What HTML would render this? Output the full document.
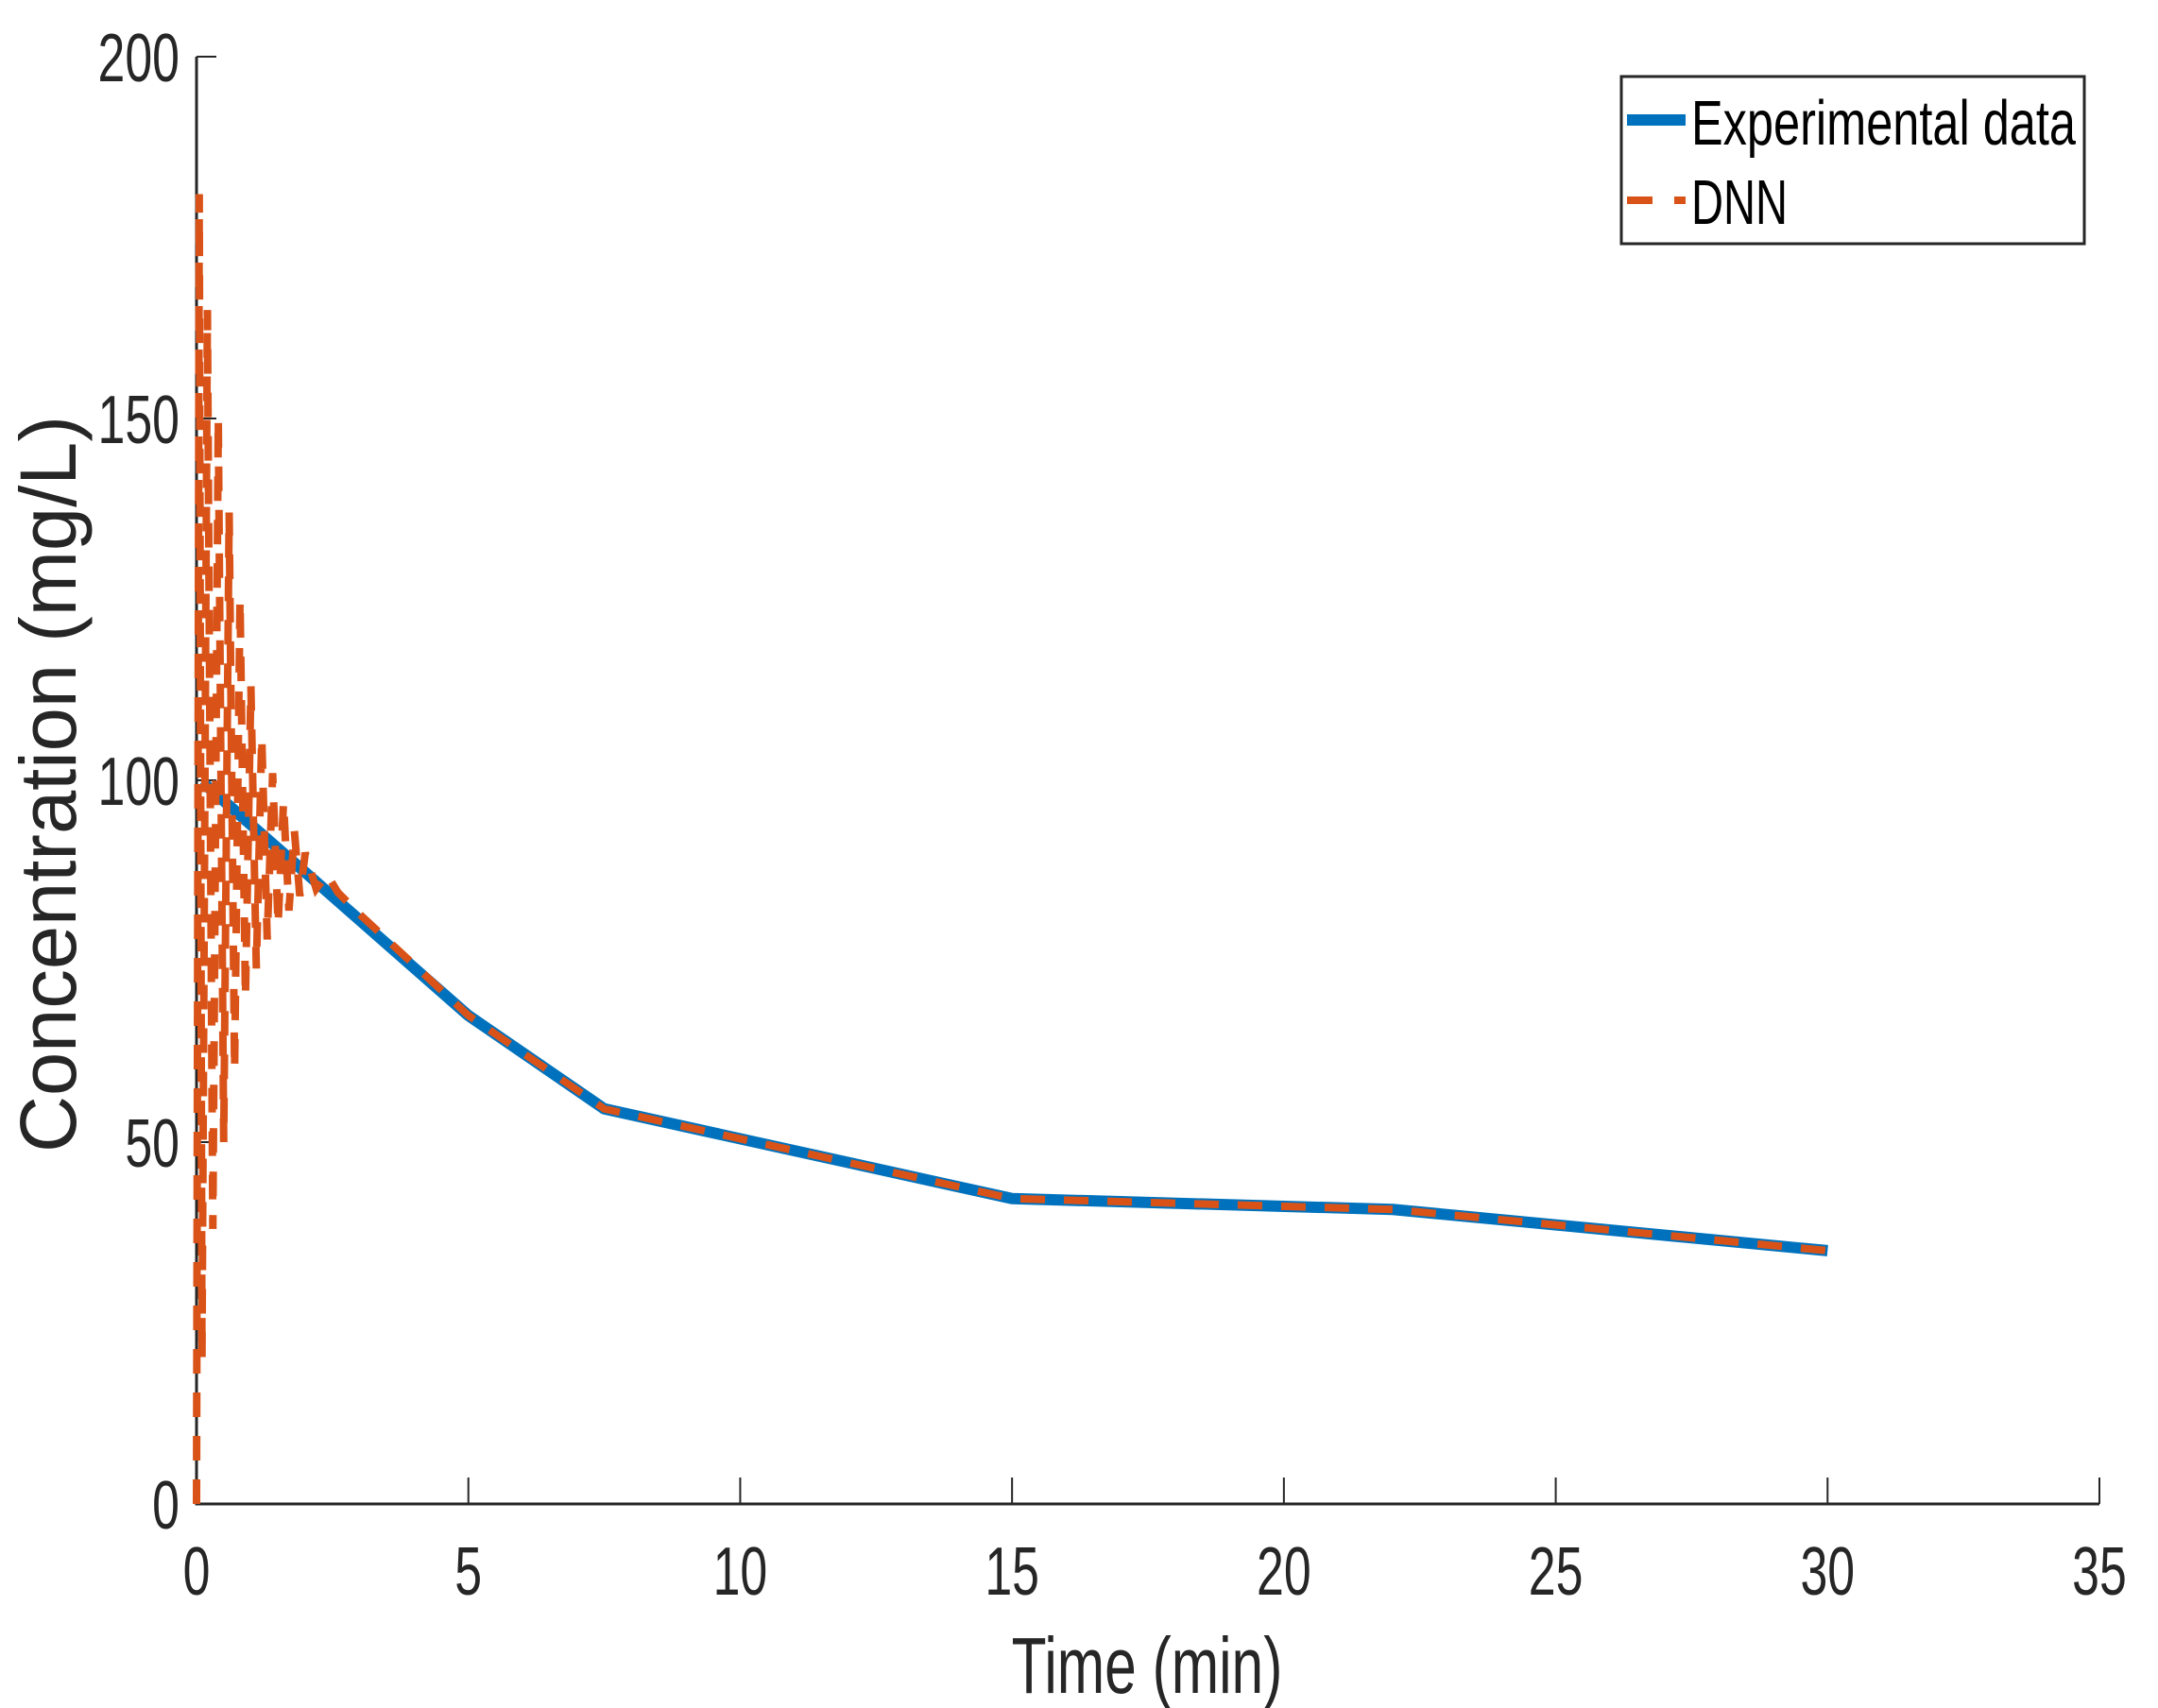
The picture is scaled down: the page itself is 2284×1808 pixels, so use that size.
<!DOCTYPE html>
<html><head><meta charset="utf-8"><style>
html,body{margin:0;padding:0;background:#fff;}
svg{display:block;font-family:"Liberation Sans",sans-serif;}
</style></head><body>
<svg id="chart" width="2284" height="1808" viewBox="0 0 2284 1808" xmlns="http://www.w3.org/2000/svg">
<rect width="2284" height="1808" fill="#fff"/>
<g id="axes"></g>
<g id="series"></g>
<g id="legend">
  <rect x="1716" y="81" width="490" height="177" fill="#fff" stroke="#262626" stroke-width="3"/>
  <line x1="1722" y1="127" x2="1784" y2="127" stroke="#0072BD" stroke-width="12"/>
  <text x="1790" y="153" font-size="67" fill="#000" textLength="407" lengthAdjust="spacingAndGlyphs">Experimental data</text>
  <line x1="1722" y1="212" x2="1784" y2="212" stroke="#D95319" stroke-width="8" stroke-dasharray="27 23"/>
  <text x="1790" y="237" font-size="67" fill="#000" textLength="102" lengthAdjust="spacingAndGlyphs">DNN</text>
</g>
</svg>
<script>
const xTicks = [0,5,10,15,20,25,30,35];
const yTicks = [0,50,100,150,200];
const expT = [0.1,5,7.5,15,22,30];
const expV = [99.8,67.5,54.6,42.2,40.7,35];
const dnnT = [0,0.05,0.1,0.2,0.3,0.4,0.5,0.6,0.7,0.8,0.9,1.0,1.1,1.2,1.3,1.4,1.5,1.6,1.7,1.8,1.9,2.0,2.2,2.4,2.6,2.8,3.0,5,7.5,15,22,30];
const dnnV = [0,181,20,165,38,150,50,137,60,125,70,113,74,106,78,101,80,97,82,93,84,90,85,87,84.5,83,81.5,67.5,54.6,42.2,40.7,35];

const L=208,R=2222,T=60,B=1592;
const X=t=>L+(t-0)/(35-0)*(R-L);
const Y=v=>B-(v-0)/(200-0)*(B-T);
const NS="http://www.w3.org/2000/svg";
const axes=document.getElementById('axes');
const series=document.getElementById('series');
function mk(tag,attrs,parent){const e=document.createElementNS(NS,tag);for(const k in attrs)e.setAttribute(k,attrs[k]);parent.appendChild(e);return e;}

const ePath=mk('polyline',{points:expT.map((t,i)=>X(t)+','+Y(expV[i])).join(' '),fill:'none',stroke:'#0072BD','stroke-width':12,'stroke-linejoin':'round'},series);


const dPath=mk('polyline',{points:dnnT.map((t,i)=>X(t)+','+Y(dnnV[i])).join(' '),fill:'none',stroke:'#D95319','stroke-width':8,'stroke-dasharray':'26 20'},series);



const ax=mk('path',{d:`M${L},${T} L${L},${B} L${R},${B}`,fill:'none',stroke:'#262626','stroke-width':3},axes);



xTicks.forEach(t=>{
  const tk=mk('line',{x1:X(t),x2:X(t),y1:B,y2:B-28,stroke:'#262626','stroke-width':2},axes);
  
  
  const lb=mk('text',{x:0,y:0,'font-size':72,fill:'#262626','text-anchor':'middle',transform:`translate(${X(t)},${1688}) scale(0.72,1)`},axes);
  lb.textContent=String(t);
  
  
});
yTicks.forEach(v=>{
  const tk=mk('line',{x1:L,x2:L+21,y1:Y(v),y2:Y(v),stroke:'#262626','stroke-width':2},axes);
  
  
  const lb=mk('text',{x:0,y:0,'font-size':72,fill:'#262626','text-anchor':'end',transform:`translate(${190},${Y(v)+26}) scale(0.72,1)`},axes);
  lb.textContent=String(v);
  
  
});
const xt=mk('text',{x:0,y:0,'font-size':84,fill:'#262626','text-anchor':'middle',transform:`translate(1214,1792) scale(0.72,1)`},axes);
xt.textContent='Time (min)';


const yt=mk('text',{x:0,y:0,'font-size':84,fill:'#262626','text-anchor':'middle',textLength:780,lengthAdjust:'spacingAndGlyphs',transform:`translate(80,830) rotate(-90)`},axes);
yt.textContent='Concentration (mg/L)';


</script>
</body></html>
